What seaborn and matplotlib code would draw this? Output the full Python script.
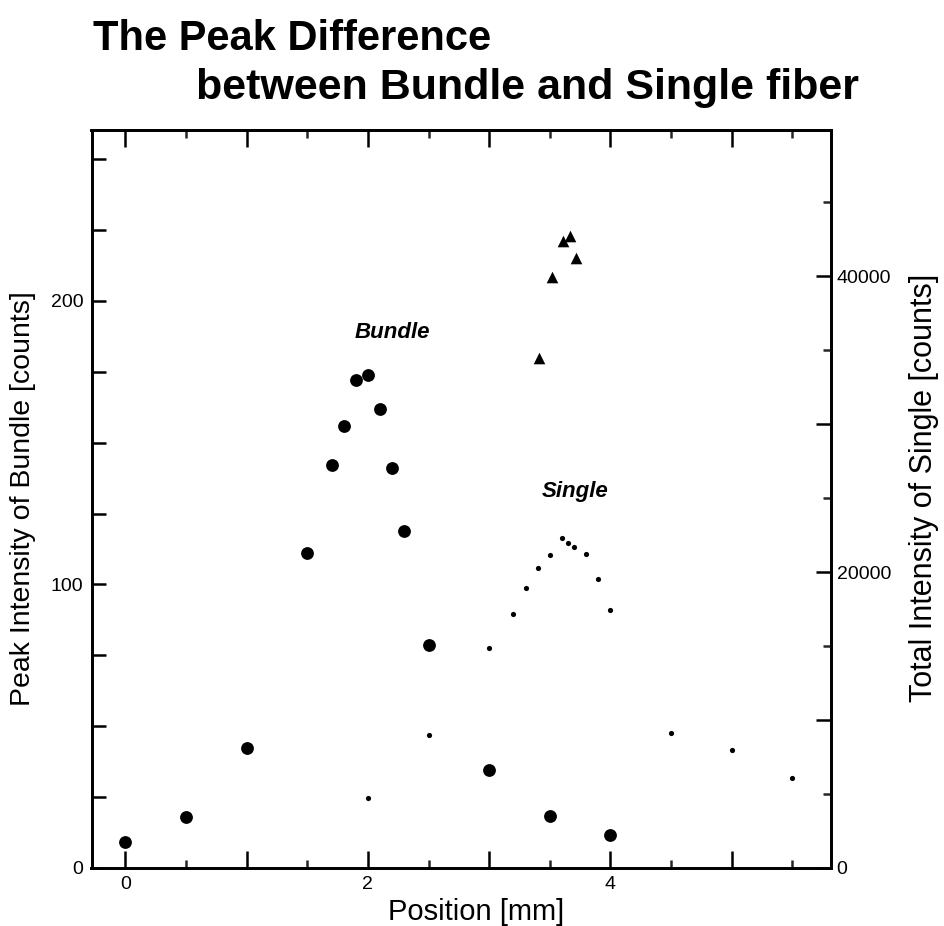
import matplotlib
matplotlib.use("Agg")
import matplotlib.pyplot as plt
import matplotlib.ticker as mticker
import seaborn as sns
import pandas as pd

# ---- data ----
bundle_pos = [0.0, 0.5, 1.0, 1.5, 1.7, 1.8, 1.9, 2.0, 2.1, 2.2, 2.3, 2.5, 3.0, 3.5, 4.0]
bundle_peak = [9, 18, 42.5, 111, 142, 156, 172, 174, 162, 141, 119, 78.5, 34.5, 18.5, 11.5]

single_pos = [2.0, 2.5, 3.0, 3.2, 3.3, 3.4, 3.5, 3.6, 3.65, 3.7, 3.8, 3.9, 4.0, 4.5, 5.0, 5.5]
single_total = [4750, 9000, 14850, 17150, 18950, 20250, 21150, 22300, 21950, 21700,
                21250, 19550, 17400, 9150, 8000, 6050]

tri_pos = [3.41, 3.52, 3.61, 3.67, 3.72]
tri_peak = [180, 208.5, 221, 223, 215]

x_ticklabels = ["0", "", "2", "", "4", ""]
left_ticklabels = ["0", "", "", "", "100", "", "", "", "200", "", ""]
right_ticklabels = ["0", "", "20000", "", "40000"]

sns.set_style("white")
plt.rcParams["font.family"] = ["Liberation Sans", "DejaVu Sans"]
plt.rcParams["text.color"] = "black"
plt.rcParams["axes.labelcolor"] = "black"

fig = plt.figure(figsize=(9.44, 9.26), dpi=100)
ax = fig.add_axes([91.5 / 944, 1 - 868 / 926, (831 - 91.5) / 944, (868 - 130) / 926])
ax2 = ax.twinx()

df_b = pd.DataFrame({"pos": bundle_pos, "val": bundle_peak})
df_t = pd.DataFrame({"pos": tri_pos, "val": tri_peak})
df_s = pd.DataFrame({"pos": single_pos, "val": single_total})

sns.scatterplot(data=df_b, x="pos", y="val", ax=ax, color="black", s=85,
                marker="o", edgecolor="black", linewidth=0, legend=False, zorder=3)
sns.scatterplot(data=df_t, x="pos", y="val", ax=ax, color="black", s=70,
                marker="^", edgecolor="black", linewidth=0, legend=False, zorder=3)
sns.scatterplot(data=df_s, x="pos", y="val", ax=ax2, color="black", s=14,
                marker="o", edgecolor="black", linewidth=0, legend=False, zorder=3)

ax.set_xlim(-0.28, 5.82)
ax.set_ylim(0, 260.3)
ax2.set_ylim(0, 49865)

ax.set_xticks([0, 1, 2, 3, 4, 5])
ax.set_xticklabels(x_ticklabels)
ax.xaxis.set_minor_locator(mticker.MultipleLocator(0.5))
ax.set_yticks([0, 25, 50, 75, 100, 125, 150, 175, 200, 225, 250])
ax.set_yticklabels(left_ticklabels)
ax2.set_yticks([0, 10000, 20000, 30000, 40000])
ax2.set_yticklabels(right_ticklabels)
ax2.yaxis.set_minor_locator(mticker.MultipleLocator(5000))

for a in (ax, ax2):
    for sp in a.spines.values():
        sp.set_linewidth(2.0)
        sp.set_color("black")

ax.tick_params(axis="x", which="major", direction="in", length=12, width=1.8,
               top=True, bottom=True, labelsize=14, pad=6, colors="black")
ax.tick_params(axis="x", which="minor", direction="in", length=6, width=1.8,
               top=True, bottom=True)
ax.tick_params(axis="y", which="major", direction="in", length=10, width=1.8,
               left=True, right=False, labelsize=14, pad=6, colors="black")
ax2.tick_params(axis="y", which="major", direction="in", length=11, width=1.8,
                right=True, labelsize=14, pad=4, colors="black")
ax2.tick_params(axis="y", which="minor", direction="in", length=6, width=1.8, right=True)

ax.set_xlabel("Position [mm]", fontsize=21, color="black")
ax.set_ylabel("Peak Intensity of Bundle [counts]", fontsize=20.5, color="black")
ax2.set_ylabel("Total Intensity of Single [counts]", fontsize=22, color="black")
ax.xaxis.set_label_coords(0.52, -0.04)
ax.yaxis.set_label_coords(-0.075, 0.50)
ax2.yaxis.set_label_coords(1.106, 0.515)

ax.text(1.89, 188.7, "Bundle", fontsize=16, fontweight="bold", fontstyle="italic",
        ha="left", va="center", color="black")
ax.text(3.43, 132.7, "Single", fontsize=16, fontweight="bold", fontstyle="italic",
        ha="left", va="center", color="black")

fig.text(93 / 944, 1 - 50 / 926, "The Peak Difference", fontsize=30,
         fontweight="bold", ha="left", va="baseline", color="black")
fig.text(196 / 944, 1 - 99 / 926, "between Bundle and Single fiber", fontsize=31,
         fontweight="bold", ha="left", va="baseline", color="black")

fig.savefig("out.png", dpi=100, facecolor="white")
